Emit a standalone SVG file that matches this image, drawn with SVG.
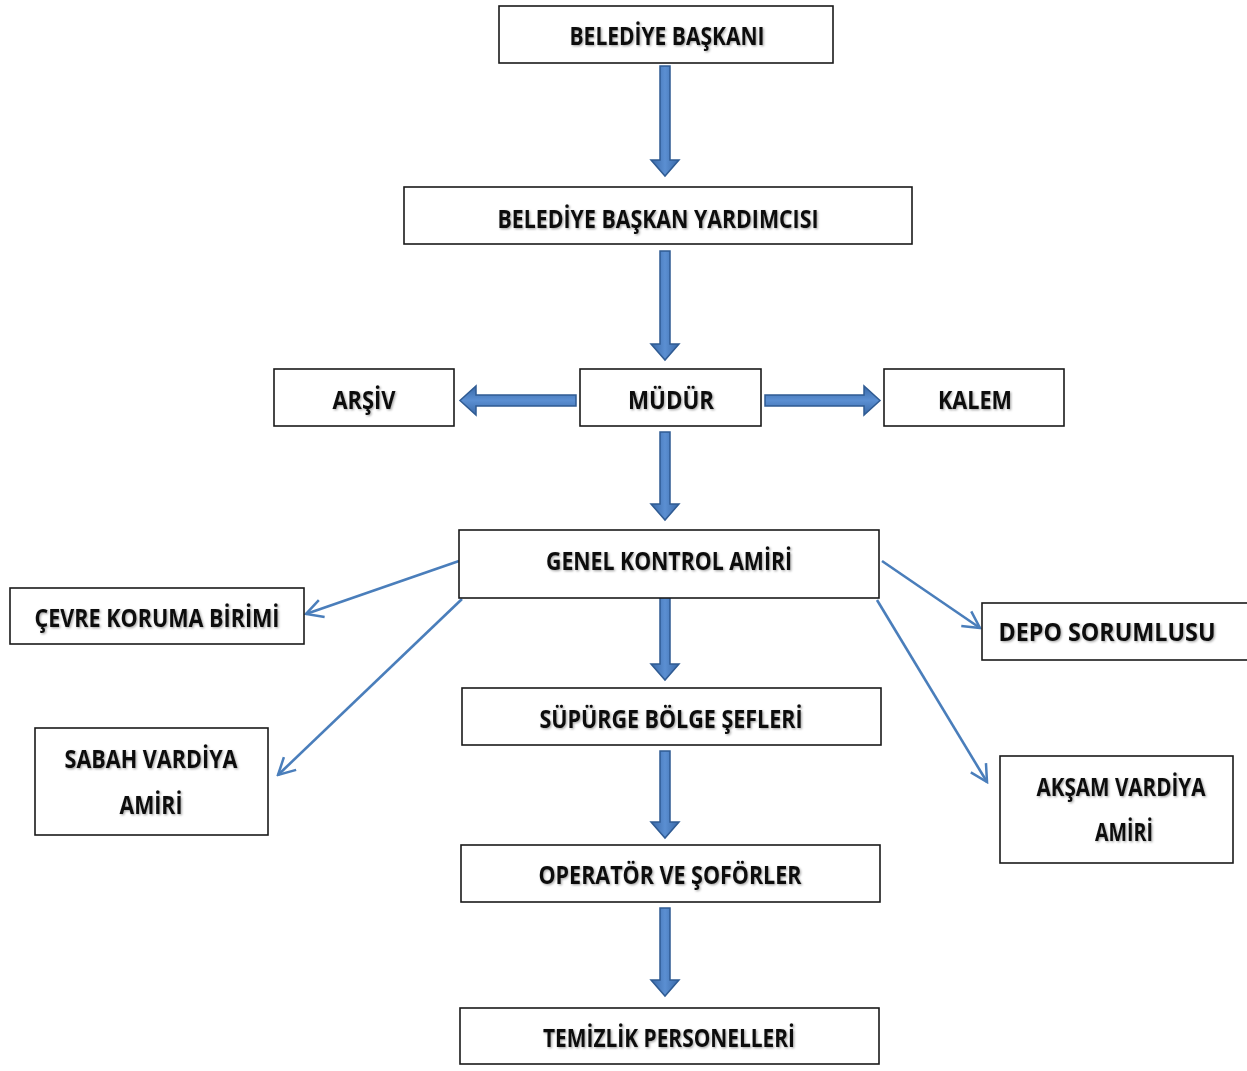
<svg xmlns="http://www.w3.org/2000/svg" width="1247" height="1071" viewBox="0 0 1247 1071">
<defs>
<style>
.box{fill:#fff;stroke:#1a1a1a;stroke-width:1.6}
.t{font-family:"Open Sans","Liberation Sans",sans-serif;font-weight:bold;font-size:24.5px;fill:#111;text-anchor:middle;filter:url(#ts)}
.blk{stroke:#2f5b93;stroke-width:1.5}
.v{fill:url(#gv)}
.h{fill:url(#gh)}
.thin{fill:none;stroke:#4a7ebb;stroke-width:2.6;marker-end:url(#ah)}
</style>
<filter id="ts" x="-5%" y="-30%" width="110%" height="160%">
<feDropShadow dx="1.2" dy="1.2" stdDeviation="0.8" flood-color="#000" flood-opacity="0.35"/>
</filter>
<linearGradient id="gv" x1="0" y1="0" x2="1" y2="0">
<stop offset="0" stop-color="#3a69a8"/>
<stop offset="0.5" stop-color="#5b8fd2"/>
<stop offset="1" stop-color="#3a69a8"/>
</linearGradient>
<linearGradient id="gh" x1="0" y1="0" x2="0" y2="1">
<stop offset="0" stop-color="#3a69a8"/>
<stop offset="0.5" stop-color="#5b8fd2"/>
<stop offset="1" stop-color="#3a69a8"/>
</linearGradient>
<marker id="ah" viewBox="0 0 20 20" refX="18" refY="10" markerWidth="8" markerHeight="8" markerUnits="strokeWidth" orient="auto">
<path d="M2,1.5 L18,10 L2,18.5" fill="none" stroke="#4a7ebb" stroke-width="2.4"/>
</marker>
</defs>

<g id="connectors">
<path class="blk v" d="M660,66 H670 V160 H679 L665,176 L651,160 H660 Z"/>
<path class="blk v" d="M660,251 H670 V344 H679 L665,360 L651,344 H660 Z"/>
<path class="blk v" d="M660,432 H670 V504 H679 L665,520 L651,504 H660 Z"/>
<path class="blk v" d="M660,592 H670 V664 H679 L665,680 L651,664 H660 Z"/>
<path class="blk v" d="M660,751 H670 V822 H679 L665,838 L651,822 H660 Z"/>
<path class="blk v" d="M660,908 H670 V980 H679 L665,996 L651,980 H660 Z"/>
<path class="blk h" d="M576,395 V406 H476 V415 L460,400.5 L476,386 V395 Z"/>
<path class="blk h" d="M765,395 V406 H864 V415 L880,400.5 L864,386 V395 Z"/>
<path class="thin" d="M459,561 L306,614"/>
<path class="thin" d="M462,599 L278,775"/>
<path class="thin" d="M882,561 L980,628"/>
<path class="thin" d="M877,600 L987,782"/>
</g>

<g id="n1"><rect class="box" x="499" y="6" width="334" height="57"/><text class="t" x="667" y="45" textLength="195" lengthAdjust="spacingAndGlyphs">BELEDİYE BAŞKANI</text></g>
<g id="n2"><rect class="box" x="404" y="187" width="508" height="57"/><text class="t" x="658" y="228" textLength="321" lengthAdjust="spacingAndGlyphs">BELEDİYE BAŞKAN YARDIMCISI</text></g>
<g id="n3"><rect class="box" x="274" y="369" width="180" height="57"/><text class="t" x="364" y="409" textLength="63" lengthAdjust="spacingAndGlyphs">ARŞİV</text></g>
<g id="n4"><rect class="box" x="580" y="369" width="181" height="57"/><text class="t" x="671" y="409" textLength="86" lengthAdjust="spacingAndGlyphs">MÜDÜR</text></g>
<g id="n5"><rect class="box" x="884" y="369" width="180" height="57"/><text class="t" x="975" y="409" textLength="74" lengthAdjust="spacingAndGlyphs">KALEM</text></g>
<g id="n6"><rect class="box" x="459" y="530" width="420" height="68"/><text class="t" x="669" y="570" textLength="246" lengthAdjust="spacingAndGlyphs">GENEL KONTROL AMİRİ</text></g>
<g id="n7"><rect class="box" x="10" y="588" width="294" height="56"/><text class="t" x="157" y="627" textLength="245" lengthAdjust="spacingAndGlyphs">ÇEVRE KORUMA BİRİMİ</text></g>
<g id="n8"><rect class="box" x="982" y="603" width="267" height="57"/><text class="t" x="1107" y="641" textLength="217" lengthAdjust="spacingAndGlyphs">DEPO SORUMLUSU</text></g>
<g id="n9"><rect class="box" x="462" y="688" width="419" height="57"/><text class="t" x="671" y="728" textLength="263" lengthAdjust="spacingAndGlyphs">SÜPÜRGE BÖLGE ŞEFLERİ</text></g>
<g id="n10"><rect class="box" x="35" y="728" width="233" height="107"/><text class="t" x="151" y="768" textLength="173" lengthAdjust="spacingAndGlyphs">SABAH VARDİYA</text><text class="t" x="151" y="814" textLength="63" lengthAdjust="spacingAndGlyphs">AMİRİ</text></g>
<g id="n11"><rect class="box" x="1000" y="756" width="233" height="107"/><text class="t" x="1121" y="796" textLength="169" lengthAdjust="spacingAndGlyphs">AKŞAM VARDİYA</text><text class="t" x="1124" y="841" textLength="58" lengthAdjust="spacingAndGlyphs">AMİRİ</text></g>
<g id="n12"><rect class="box" x="461" y="845" width="419" height="57"/><text class="t" x="670" y="884" textLength="263" lengthAdjust="spacingAndGlyphs">OPERATÖR VE ŞOFÖRLER</text></g>
<g id="n13"><rect class="box" x="460" y="1008" width="419" height="56"/><text class="t" x="669" y="1047" textLength="252" lengthAdjust="spacingAndGlyphs">TEMİZLİK PERSONELLERİ</text></g>
</svg>
